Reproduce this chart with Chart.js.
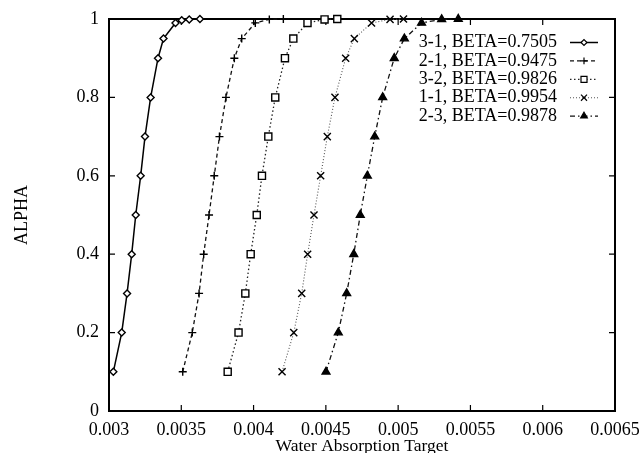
<!DOCTYPE html>
<html>
<head>
<meta charset="utf-8">
<script src="https://cdn.jsdelivr.net/npm/chart.js@4.4.0/dist/chart.umd.min.js"></script>
<style>
  html, body { margin: 0; padding: 0; background: #fff; }
  canvas { display: block; }
</style>
</head>
<body>
<canvas id="alpha-chart" width="640" height="453"></canvas>
<script>
// alpha vs water absorption target, one curve per experiment
const seriesNames = ["3-1", "2-1", "3-2", "1-1", "2-3"];
const betaValues = ["0.7505", "0.9475", "0.9826", "0.9954", "0.9878"];

const alphaLevels = [0.1, 0.2, 0.3, 0.4, 0.5, 0.6, 0.7, 0.8, 0.9, 0.95, 0.99, 0.999, 1];
const alphaLevels31 = [0.1, 0.2, 0.3, 0.4, 0.5, 0.6, 0.7, 0.8, 0.9, 0.95, 0.99, 0.997, 0.999, 1];

const target31 = [0.00303, 0.003088, 0.003125, 0.003157, 0.003185, 0.003219, 0.003249,
  0.003288, 0.003339, 0.003377, 0.00346, 0.003503, 0.003555, 0.003629];
const target21 = [0.00351, 0.003576, 0.003623, 0.003655, 0.003692, 0.003728, 0.003764,
  0.003809, 0.003867, 0.003918, 0.004012, 0.004109, 0.004206];
const target32 = [0.003821, 0.003896, 0.003943, 0.00398, 0.004022, 0.004058, 0.004102,
  0.00415, 0.004217, 0.004275, 0.004373, 0.004491, 0.004579];
const target11 = [0.004197, 0.004278, 0.004333, 0.004374, 0.004418, 0.004464, 0.00451,
  0.004563, 0.004637, 0.004697, 0.004816, 0.004944, 0.005037];
const target23 = [0.004501, 0.004586, 0.004644, 0.004693, 0.004738, 0.004787, 0.004838,
  0.004893, 0.004973, 0.005043, 0.005162, 0.005301, 0.005416];

const xTicks = [0.003, 0.0035, 0.004, 0.0045, 0.005, 0.0055, 0.006, 0.0065];
const yTicks = [0, 0.2, 0.4, 0.6, 0.8, 1];

const serif = "'Liberation Serif', 'Times New Roman', serif";

function pairs(xs, ys) {
  return xs.map((v, i) => ({ x: v, y: ys[i] }));
}

const lineStyles = [
  { color: "#000", dash: [], width: 1.5, point: "rectRot", radius: 3.5, fill: "#fff" },
  { color: "#111", dash: [4, 3], width: 1.3, point: "cross", radius: 4, fill: "#fff" },
  { color: "#222", dash: [1.5, 2.5], width: 1.3, point: "rect", radius: 5, fill: "#fff" },
  { color: "#555", dash: [1, 2], width: 1.1, point: "crossRot", radius: 5, fill: "#fff" },
  { color: "#111", dash: [5, 3, 1.5, 3], width: 1.3, point: "triangle", radius: 4.5, fill: "#000" },
];

const seriesData = [
  pairs(target31, alphaLevels31),
  pairs(target21, alphaLevels),
  pairs(target32, alphaLevels),
  pairs(target11, alphaLevels),
  pairs(target23, alphaLevels),
];

const datasets = seriesData.map((data, i) => {
  const s = lineStyles[i];
  return {
    label: seriesNames[i] + ", BETA=" + betaValues[i],
    data: data,
    showLine: true,
    fill: false,
    tension: 0,
    clip: false,
    borderColor: s.color,
    borderDash: s.dash,
    borderWidth: s.width,
    pointStyle: s.point,
    pointRadius: s.radius,
    pointBorderWidth: 1.4,
    pointBorderColor: "#000",
    pointBackgroundColor: s.fill,
  };
});

// box around the plot with inward tick marks on all four sides
const frameTicks = {
  id: "frameTicks",
  beforeDatasetsDraw(chart) {
    const { ctx, chartArea: a, scales: { x, y } } = chart;
    ctx.save();
    ctx.strokeStyle = "#000";
    ctx.lineWidth = 2;
    ctx.strokeRect(a.left, a.top, a.right - a.left, a.bottom - a.top);
    ctx.lineWidth = 1.2;
    ctx.beginPath();
    x.ticks.forEach(t => {
      const px = x.getPixelForValue(t.value);
      ctx.moveTo(px, a.bottom);
      ctx.lineTo(px, a.bottom - 6);
      ctx.moveTo(px, a.top);
      ctx.lineTo(px, a.top + 6);
    });
    y.ticks.forEach(t => {
      const py = y.getPixelForValue(t.value);
      ctx.moveTo(a.left, py);
      ctx.lineTo(a.left + 6, py);
      ctx.moveTo(a.right, py);
      ctx.lineTo(a.right - 6, py);
    });
    ctx.stroke();
    ctx.restore();
  },
};

// gnuplot style key: label right aligned, line sample with marker on the right
const keyBox = {
  id: "keyBox",
  afterDatasetsDraw(chart) {
    const { ctx, chartArea: a } = chart;
    ctx.save();
    ctx.font = "18px " + serif;
    ctx.textAlign = "right";
    ctx.textBaseline = "middle";
    chart.data.datasets.forEach((ds, i) => {
      const rowY = a.top + 23.5 + i * 18.4;
      ctx.fillStyle = "#000";
      ctx.fillText(ds.label, a.right - 58, rowY);
      ctx.strokeStyle = ds.borderColor;
      ctx.lineWidth = ds.borderWidth;
      ctx.setLineDash(ds.borderDash);
      ctx.beginPath();
      ctx.moveTo(a.right - 45, rowY);
      ctx.lineTo(a.right - 17, rowY);
      ctx.stroke();
      ctx.setLineDash([]);
      ctx.strokeStyle = "#000";
      ctx.fillStyle = ds.pointBackgroundColor;
      ctx.lineWidth = 1.2;
      Chart.helpers.drawPoint(ctx, {
        pointStyle: ds.pointStyle,
        radius: ds.pointRadius * 0.85,
        rotation: 0,
        borderWidth: 1.2,
      }, a.right - 31, rowY);
    });
    ctx.restore();
  },
};

new Chart(document.getElementById("alpha-chart"), {
  type: "scatter",
  data: { datasets: datasets },
  options: {
    responsive: false,
    animation: false,
    layout: { padding: { top: 19, right: 25, left: 0, bottom: 0 } },
    plugins: {
      legend: { display: false },
      tooltip: { enabled: false },
    },
    scales: {
      x: {
        type: "linear",
        min: 0.003,
        max: 0.0065,
        afterBuildTicks(scale) {
          scale.ticks = xTicks.map(v => ({ value: v }));
        },
        afterFit(scale) {
          scale.height = 42;
          scale.paddingLeft = 0;
          scale.paddingRight = 0;
        },
        grid: { display: false, drawTicks: false },
        border: { display: false },
        ticks: {
          color: "#000",
          padding: 8,
          maxRotation: 0,
          autoSkip: false,
          font: { family: serif, size: 18 },
          callback: v => String(+v.toFixed(4)),
        },
        title: {
          display: true,
          text: "Water Absorption Target",
          color: "#000",
          padding: 0,
          font: { family: serif, size: 17.5, lineHeight: 0.8 },
        },
      },
      y: {
        type: "linear",
        min: 0,
        max: 1,
        afterBuildTicks(scale) {
          scale.ticks = yTicks.map(v => ({ value: v }));
        },
        afterFit(scale) {
          scale.width = 109;
          scale.paddingTop = 0;
          scale.paddingBottom = 0;
        },
        grid: { display: false, drawTicks: false },
        border: { display: false },
        ticks: {
          color: "#000",
          padding: 10,
          font: { family: serif, size: 18 },
          callback: v => String(+v.toFixed(2)),
        },
        title: {
          display: true,
          text: "ALPHA",
          color: "#000",
          padding: { top: 11, bottom: 0 },
          font: { family: serif, size: 18 },
        },
      },
    },
  },
  plugins: [frameTicks, keyBox],
});
</script>
</body>
</html>
